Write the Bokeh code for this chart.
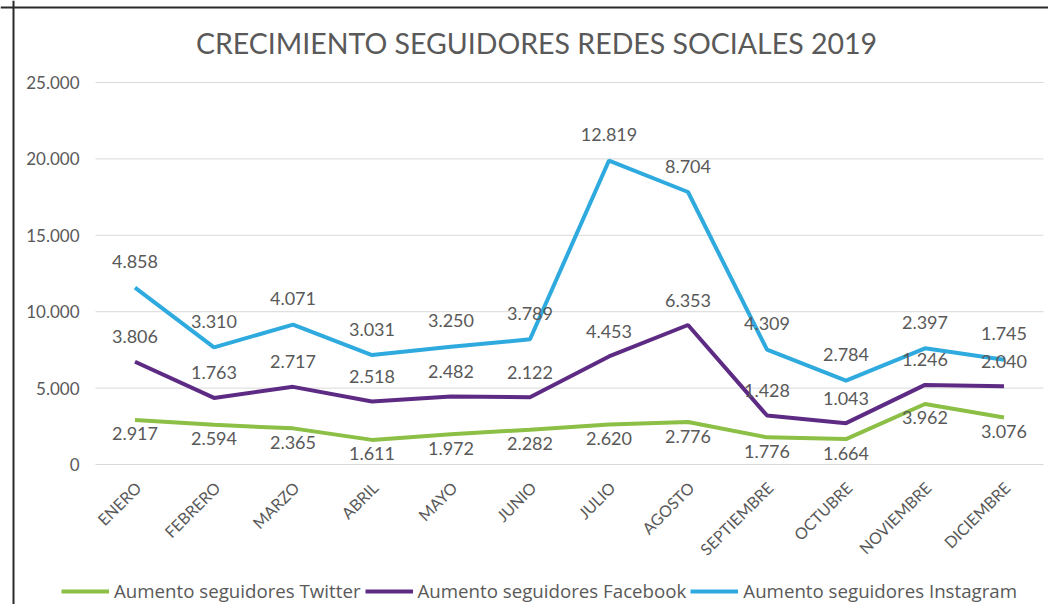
from bokeh.plotting import figure
from bokeh.models import (ColumnDataSource, Legend, LegendItem, Range1d,
                          Label, Span)
from bokeh.embed import file_html
from bokeh.resources import INLINE
from bokeh.core.properties import value
import math

months = ["ENERO", "FEBRERO", "MARZO", "ABRIL", "MAYO", "JUNIO", "JULIO",
          "AGOSTO", "SEPTIEMBRE", "OCTUBRE", "NOVIEMBRE", "DICIEMBRE"]
twitter = [2917, 2594, 2365, 1611, 1972, 2282, 2620, 2776, 1776, 1664, 3962, 3076]
facebook = [3806, 1763, 2717, 2518, 2482, 2122, 4453, 6353, 1428, 1043, 1246, 2040]
instagram = [4858, 3310, 4071, 3031, 3250, 3789, 12819, 8704, 4309, 2784, 2397, 1745]
y_ticks = [0, 5000, 10000, 15000, 20000, 25000]
y_tick_labels = ["0", "5.000", "10.000", "15.000", "20.000", "25.000"]

def fmt(v):
    return f"{v:,}".replace(",", ".")

idx = list(range(len(months)))
fb_cum = [a + b for a, b in zip(twitter, facebook)]
ig_cum = [a + b for a, b in zip(fb_cum, instagram)]

src = ColumnDataSource(dict(
    x=idx, m=months, zero=[0] * len(months),
    tw=twitter, fb=fb_cum, ig=ig_cum,
    tw_l=[fmt(v) for v in twitter],
    fb_l=[fmt(v) for v in facebook],
    ig_l=[fmt(v) for v in instagram],
))
tick_src = ColumnDataSource(dict(
    y=y_ticks, lab=y_tick_labels,
    x0=[-0.5] * len(y_ticks), x1=[len(months) - 0.5] * len(y_ticks),
))

FONT = "Lato"
GRAY = "#595959"
C_TW = "#8CBF45"
C_FB = "#5E2B84"
C_IG = "#2EAADF"

W, H = 1048, 604
px_x = 79.0            # pixels per category
px_y = 25000 / 382.0   # value per pixel
x0 = -134.5 / px_x
y1 = 25000 + 82 * px_y
p = figure(x_range=Range1d(x0, x0 + W / px_x),
           y_range=Range1d(y1 - H * px_y, y1),
           frame_width=W, frame_height=H,
           x_axis_location=None, y_axis_location=None,
           output_backend="svg", toolbar_location=None,
           min_border=0)
p.outline_line_color = None
p.background_fill_color = "white"
p.border_fill_color = "white"
p.xgrid.visible = False
p.ygrid.visible = False

# chart border (left and top edges of the original frame)
p.add_layout(Span(location=x0 + 13 / px_x, dimension="height",
                  line_color="#2a2a2a", line_width=2))
p.add_layout(Span(location=y1 - 7 * px_y, dimension="width",
                  line_color="#2a2a2a", line_width=2))

# grid lines and y tick labels
p.segment(x0="x0", x1="x1", y0="y", y1="y", source=tick_src,
          line_color="#D9D9D9", line_width=1)
p.text(x="x0", y="y", text="lab", source=tick_src, x_offset=-16,
       text_font=value(FONT), text_font_size="17px", text_color=GRAY,
       text_align="right", text_baseline="middle")

# month labels
p.text(x="x", y="zero", text="m", source=src, angle=math.pi / 4,
       x_offset=3, y_offset=20,
       text_font=value(FONT), text_font_size="16px", text_color=GRAY,
       text_align="right", text_baseline="middle")

# title
p.add_layout(Label(x=(537 - 1 - 134.5) / px_x, y=25000 + 40 * px_y,
                   text="CRECIMIENTO SEGUIDORES REDES SOCIALES 2019",
                   text_font=FONT, text_font_size="28.5px", text_color=GRAY,
                   text_align="center", text_baseline="middle"))

r_tw = p.line("x", "tw", source=src, line_color=C_TW, line_width=4)
r_fb = p.line("x", "fb", source=src, line_color=C_FB, line_width=4)
r_ig = p.line("x", "ig", source=src, line_color=C_IG, line_width=4)

common = dict(source=src, text_font=value(FONT), text_font_size="18px",
              text_color=GRAY, text_align="center", text_baseline="middle")
p.text("x", "tw", text="tw_l", y_offset=14, **common)
p.text("x", "fb", text="fb_l", y_offset=-25, **common)
p.text("x", "ig", text="ig_l", y_offset=-26, **common)

legend = Legend(items=[
    LegendItem(label="Aumento seguidores Twitter", renderers=[r_tw]),
    LegendItem(label="Aumento seguidores Facebook", renderers=[r_fb]),
    LegendItem(label="Aumento seguidores Instagram", renderers=[r_ig]),
], orientation="horizontal", location=(61, 1))
legend.label_text_font = "Open Sans"
legend.label_text_font_size = "18.7px"
legend.label_text_color = GRAY
legend.border_line_color = None
legend.background_fill_alpha = 0
legend.glyph_width = 48
legend.spacing = 4
legend.label_standoff = 5
legend.margin = 0
legend.padding = 0
p.add_layout(legend)

open("out.html", "w").write(file_html(p, INLINE))
